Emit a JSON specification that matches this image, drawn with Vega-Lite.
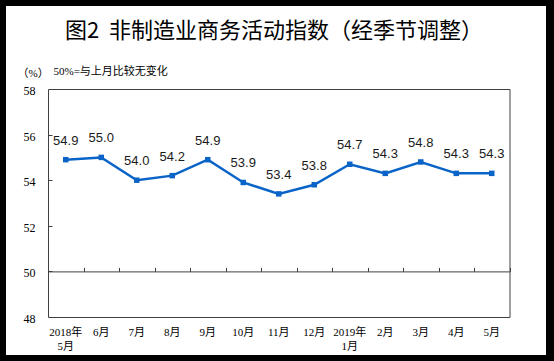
{
  "$schema": "https://vega.github.io/schema/vega-lite/v6.json",
  "width": 540,
  "height": 349,
  "autosize": {"type": "none"},
  "padding": {"left": 6, "top": 6, "right": 8, "bottom": 6},
  "background": "#000000",
  "config": {
    "view": {"fill": "#ffffff", "stroke": null},
    "axis": {"domainColor": "#404040", "tickColor": "#404040", "grid": false, "domainWidth": 1, "tickWidth": 1}
  },
  "title": {
    "text": "图2 \u00a0非制造业商务活动指数（经季节调整）",
    "font": "Noto Sans CJK SC",
    "fontSize": 22,
    "fontWeight": "normal",
    "color": "#000000",
    "frame": "group",
    "anchor": "middle",
    "offset": -54,
    "baseline": "alphabetic",
    "dx": -2
  },
  "data": {
    "values": [
      {"m": "2018年\n5月", "v": 54.9},
      {"m": "6月", "v": 55.0},
      {"m": "7月", "v": 54.0},
      {"m": "8月", "v": 54.2},
      {"m": "9月", "v": 54.9},
      {"m": "10月", "v": 53.9},
      {"m": "11月", "v": 53.4},
      {"m": "12月", "v": 53.8},
      {"m": "2019年\n1月", "v": 54.7},
      {"m": "2月", "v": 54.3},
      {"m": "3月", "v": 54.8},
      {"m": "4月", "v": 54.3},
      {"m": "5月", "v": 54.3}
    ]
  },
  "layer": [
    {
      "mark": {"type": "line", "color": "#0a64c8", "strokeWidth": 2.5},
      "encoding": {
        "x": {
          "field": "m", "type": "nominal", "sort": null,
          "scale": {"type": "band", "range": [42, 503.5], "paddingInner": 0, "paddingOuter": 0},
          "axis": {
            "orient": "bottom", "offset": -38, "title": null, "ticks": false, "tickSize": 0,
            "domain": true, "labels": true, "labelAngle": 0, "labelPadding": 9,
            "labelExpr": "split(datum.label, '\\n')",
            "labelFont": "Liberation Serif, Noto Sans CJK SC", "labelFontSize": 11,
            "labelColor": "#000000", "labelLineHeight": 14, "labelBaseline": "top"
          }
        },
        "y": {
          "field": "v", "type": "quantitative",
          "scale": {"domain": [48, 58], "range": [311, 83], "nice": false, "zero": false},
          "axis": {
            "orient": "left", "offset": -42, "values": [48, 50, 52, 54, 56, 58],
            "ticks": false, "tickSize": 0, "domain": true, "labelPadding": 13,
            "labelFont": "Liberation Serif", "labelFontSize": 12, "labelColor": "#000000",
            "labelOffset": 1.5,
            "title": "（%）", "titleAngle": 0, "titleX": -31, "titleY": 70,
            "titleAlign": "left", "titleBaseline": "alphabetic",
            "titleFont": "Liberation Serif, Noto Sans CJK SC", "titleFontSize": 11,
            "titleFontWeight": "normal", "titleColor": "#000000"
          }
        }
      }
    },
    {
      "mark": {"type": "square", "color": "#0a64c8", "size": 30, "opacity": 1, "filled": true},
      "encoding": {
        "x": {
          "field": "m", "type": "nominal", "sort": null,
          "axis": {
            "orient": "top", "offset": -83, "labels": false, "ticks": false, "domain": true,
            "title": "50%=与上月比较无变化", "titleX": 47, "titleY": -15,
            "titleAlign": "left", "titleAnchor": null, "titleBaseline": "alphabetic",
            "titleFont": "Liberation Serif, Noto Sans CJK SC", "titleFontSize": 11,
            "titleFontWeight": "normal", "titleColor": "#000000"
          }
        },
        "y": {
          "field": "v", "type": "quantitative",
          "axis": {"orient": "right", "offset": -36.5, "labels": false, "ticks": false, "domain": true, "title": null}
        }
      }
    },
    {
      "mark": {"type": "text", "font": "Liberation Sans", "fontSize": 13, "dy": -15, "baseline": "alphabetic", "align": "center", "color": "#1a1a1a"},
      "encoding": {
        "x": {
          "field": "m", "type": "nominal", "sort": null,
          "axis": {
            "orient": "top", "offset": -265.4, "labels": false, "title": null,
            "ticks": true, "tickSize": 4, "tickBand": "extent", "domain": true
          }
        },
        "y": {
          "field": "v", "type": "quantitative",
          "axis": {
            "orient": "right", "offset": -498, "values": [50, 52, 54, 56],
            "labels": false, "title": null, "ticks": true, "tickSize": 4, "domain": false
          }
        },
        "text": {"field": "v", "type": "quantitative", "format": ".1f"}
      }
    }
  ],
  "resolve": {"axis": {"x": "independent", "y": "independent"}}
}
